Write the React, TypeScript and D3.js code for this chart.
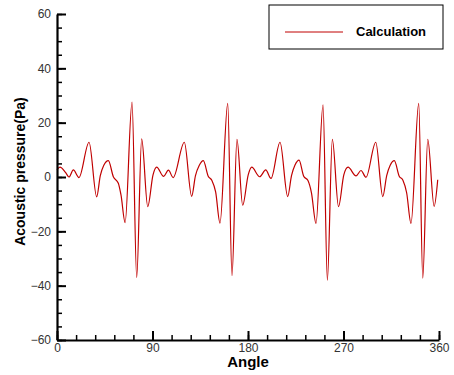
import { useRef, useEffect } from "react";
import * as d3 from "d3";

// [angle (deg), acoustic pressure (Pa)], one blade passage at a time
const cycle1: [number, number][] = [
  [0, 2.6], [2.8, 3.6], [8, 1.7], [11.3, 0], [15.4, 2.6], [20.7, -0.2],
  [30.2, 12.8], [37.4, -7.3], [40.8, 0.5], [44, 4.2], [48.4, 6], [53.1, 0.1],
  [57.8, -2.3], [60.3, -6.6], [64.2, -16.8], [70.7, 27.6], [75.1, -37],
  [79.8, 14], [85.5, -10.9], [90.5, 0.8],
];
const cycle2: [number, number][] = [
  [93.9, 3.6], [100.5, 0.2], [105, 2.5], [109.5, -0.2], [120, 12.8],
  [126.9, -7.1], [130.5, 0.5], [134, 4.2], [137.9, 6], [142.5, 0.3],
  [146, -1.3], [149.5, -5.5], [153.6, -17], [160.9, 27.1], [164.9, -36.3],
  [169.6, 13.9], [175, -10.4], [180.2, 0.8],
];
const cycle3: [number, number][] = [
  [183.5, 3.6], [191, 0.1], [196.7, 2.6], [201.7, -0.5], [210.2, 12.8],
  [217.4, -7.2], [221, 0.5], [224.2, 4.3], [228.1, 6.2], [232.5, 0.3],
  [236.5, -1.3], [239.8, -5.8], [244.1, -17.1], [250.7, 26.6], [254.8, -38],
  [259.5, 13.9], [265.3, -10.9], [270.3, 0.8],
];
const cycle4: [number, number][] = [
  [274.3, 3.6], [281.8, 0.4], [286.5, 2.4], [291.2, -0.1], [300.4, 12.8],
  [307, -7.2], [310.7, 0.5], [314, 4.3], [317.9, 6], [322.5, 0.3],
  [326, -1.2], [329.5, -5.8], [333.6, -17.1], [340.9, 27.1], [344.7, -37.2],
  [349.4, 13.9], [355.4, -10.8], [358.8, -1],
];

const xTicks = [0, 90, 180, 270, 360];
const yTicks = [-60, -40, -20, 0, 20, 40, 60];
const xMinor = d3.range(0, 361, 18);
const yMinor = d3.range(-60, 61, 5);
const seriesName = "Calculation";
const lineColor = "#c00000";
const font = "'Liberation Sans', Arial, sans-serif";

export default function App() {
  const svgRef = useRef<SVGSVGElement | null>(null);

  useEffect(() => {
    const width = 454;
    const height = 375;
    const margin = { top: 14, right: 15, bottom: 35, left: 57 };
    const innerWidth = width - margin.left - margin.right;
    const innerHeight = height - margin.top - margin.bottom;

    const data = [...cycle1, ...cycle2, ...cycle3, ...cycle4];

    const x = d3.scaleLinear().domain([0, 360]).range([0, innerWidth]);
    const y = d3.scaleLinear().domain([-60, 60]).range([innerHeight, 0]);

    const svg = d3.select(svgRef.current);
    svg.selectAll("*").remove();

    const g = svg
      .append("g")
      .attr("transform", `translate(${margin.left},${margin.top})`);

    // curve
    const line = d3
      .line<[number, number]>()
      .x((d) => x(d[0]))
      .y((d) => y(d[1]))
      .curve(d3.curveMonotoneX);

    g.append("path")
      .datum(data)
      .attr("d", line)
      .attr("fill", "none")
      .attr("stroke", lineColor)
      .attr("stroke-width", 1.2);

    // minor ticks (inward)
    g.append("g")
      .attr("transform", `translate(0,${innerHeight})`)
      .call(d3.axisBottom(x).tickValues(xMinor).tickSize(-5).tickFormat(() => ""))
      .call((a) => a.select(".domain").remove())
      .selectAll("line")
      .attr("stroke-width", 1.5);

    g.append("g")
      .call(d3.axisLeft(y).tickValues(yMinor).tickSize(-5).tickFormat(() => ""))
      .call((a) => a.select(".domain").remove())
      .selectAll("line")
      .attr("stroke-width", 1.5);

    // major axes
    const xAxis = g
      .append("g")
      .attr("transform", `translate(0,${innerHeight})`)
      .call(d3.axisBottom(x).tickValues(xTicks).tickSize(-9).tickSizeOuter(0).tickPadding(3));

    const yAxis = g
      .append("g")
      .call(d3.axisLeft(y).tickValues(yTicks).tickSize(-9).tickSizeOuter(0).tickPadding(6));

    [xAxis, yAxis].forEach((a) => {
      a.select(".domain").attr("stroke-width", 2.2);
      a.selectAll("line").attr("stroke-width", 2);
      a.selectAll("text")
        .attr("font-family", font)
        .attr("font-size", 12)
        .attr("fill", "#333");
    });

    // axis titles
    svg
      .append("text")
      .attr("x", margin.left + x(180))
      .attr("y", 367)
      .attr("text-anchor", "middle")
      .attr("font-family", font)
      .attr("font-weight", "bold")
      .attr("font-size", 15)
      .text("Angle");

    svg
      .append("text")
      .attr("transform", `translate(25,${margin.top + y(2)}) rotate(-90)`)
      .attr("text-anchor", "middle")
      .attr("font-family", font)
      .attr("font-weight", "bold")
      .attr("font-size", 14)
      .text("Acoustic pressure(Pa)");

    // legend
    const legend = svg.append("g").attr("transform", "translate(269,5)");
    legend
      .append("rect")
      .attr("width", 174)
      .attr("height", 44)
      .attr("fill", "white")
      .attr("stroke", "black")
      .attr("stroke-width", 1);
    legend
      .append("line")
      .attr("x1", 16)
      .attr("x2", 74)
      .attr("y1", 27)
      .attr("y2", 27)
      .attr("stroke", lineColor)
      .attr("stroke-width", 1);
    legend
      .append("text")
      .attr("x", 87)
      .attr("y", 26)
      .attr("dominant-baseline", "central")
      .attr("font-family", font)
      .attr("font-weight", "bold")
      .attr("font-size", 13)
      .text(seriesName);
  }, []);

  return (
    <svg
      ref={svgRef}
      width={454}
      height={375}
      style={{ position: "absolute", left: 0, top: 0, background: "white" }}
    ></svg>
  );
}
